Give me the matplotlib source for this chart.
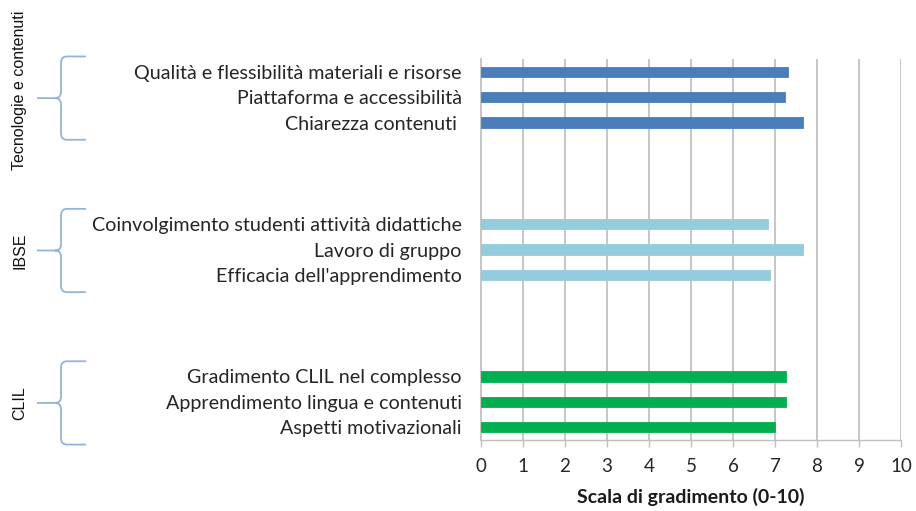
import matplotlib
matplotlib.use("Agg")
import matplotlib.pyplot as plt
from matplotlib.path import Path
from matplotlib.patches import PathPatch
from matplotlib.transforms import blended_transform_factory

# ---- data ----
groups = ["Tecnologie e contenuti", "IBSE", "CLIL"]
tech_labels = ["Qualità e flessibilità materiali e risorse",
               "Piattaforma e accessibilità",
               "Chiarezza contenuti "]
tech_values = [7.32, 7.23, 7.66]
ibse_labels = ["Coinvolgimento studenti attività didattiche",
               "Lavoro di gruppo",
               "Efficacia dell'apprendimento"]
ibse_values = [6.83, 7.67, 6.88]
clil_labels = ["Gradimento CLIL nel complesso",
               "Apprendimento lingua e contenuti",
               "Aspetti motivazionali"]
clil_values = [7.26, 7.25, 6.99]
x_ticks = list(range(0, 11))
x_label = "Scala di gradimento (0-10)"

colors = ["#4a7ebb", "#93cddd", "#00b050"]
font = "Lato"

W, H = 916, 511
fig = plt.figure(figsize=(W / 100, H / 100), dpi=100)
ax = fig.add_axes([481 / W, (H - 440) / H, 420 / W, 381 / H])

series = [(tech_labels, tech_values), (ibse_labels, ibse_values), (clil_labels, clil_values)]
all_pos, all_labels = [], []
group_pos = []
start = 0
for (labs, vals), c in zip(series, colors):
    pos = [start + i for i in range(len(labs))]
    ax.barh(pos, vals, height=0.4, color=c, edgecolor=c, linewidth=0.6, zorder=3)
    all_pos += pos
    all_labels += labs
    group_pos.append(pos)
    start = pos[-1] + 4

ax.set_ylim(all_pos[-1] + 0.5, -0.5)
ax.set_xlim(0, 10)
ax.set_yticks(all_pos)
ax.set_yticklabels(all_labels, fontsize=14.2, family=font, color="#262626")
ax.tick_params(axis="y", length=0, pad=14)
ax.set_xticks(x_ticks)
ax.set_xticklabels([str(t) for t in x_ticks], fontsize=13.5, family=font, color="#262626")
ax.tick_params(axis="x", length=5, width=1, color="#bfbfbf", pad=8)
ax.grid(axis="x", color="#c6c6c6", linewidth=1.4, zorder=0)
ax.set_axisbelow(True)
for s in ["top", "right"]:
    ax.spines[s].set_visible(False)
ax.spines["left"].set_color("#c6c6c6")
ax.spines["left"].set_linewidth(1.4)
ax.spines["bottom"].set_color("#bfbfbf")
ax.spines["bottom"].set_linewidth(1.0)
ax.set_xlabel(x_label, fontsize=14, family=font, fontweight="bold", color="#1a1a1a", labelpad=9)

# ---- group braces (x in figure pixels, y in data units) ----
tr = blended_transform_factory(fig.transFigure, ax.transData)
px = lambda v: v / W
for i, (g, pos) in enumerate(zip(groups, group_pos)):
    top = pos[0] - 0.6
    bot = pos[-1] + 0.68
    mid = (top + bot) / 2
    r = 0.25
    xt, xv, xe = px(37), px(61), px(86)
    rx = px(6)
    verts = [(xe, top), (xv + rx, top), (xv, top), (xv, top + r),
             (xv, mid - r), (xv, mid), (xv - rx, mid), (xt, mid),
             (xv - rx, mid), (xv, mid), (xv, mid + r),
             (xv, bot - r), (xv, bot), (xv + rx, bot), (xe, bot)]
    codes = [Path.MOVETO, Path.LINETO, Path.CURVE3, Path.CURVE3,
             Path.LINETO, Path.CURVE3, Path.CURVE3, Path.LINETO,
             Path.MOVETO, Path.CURVE3, Path.CURVE3,
             Path.LINETO, Path.CURVE3, Path.CURVE3, Path.LINETO]
    patch = PathPatch(Path(verts, codes), transform=tr, fill=False,
                      edgecolor="#95b3d7", linewidth=1.3, clip_on=False)
    fig.add_artist(patch)
    fs = 11.5 if len(g) > 6 else 11.5
    ty = mid - 0.3 if i == 0 else mid
    t = fig.text(px(20), 0, g, transform=tr, rotation=90, ha="center", va="center",
                 fontsize=fs, family="Liberation Sans", color="#111111")
    t.set_position((px(20), ty))

fig.savefig("out.png", dpi=100)
